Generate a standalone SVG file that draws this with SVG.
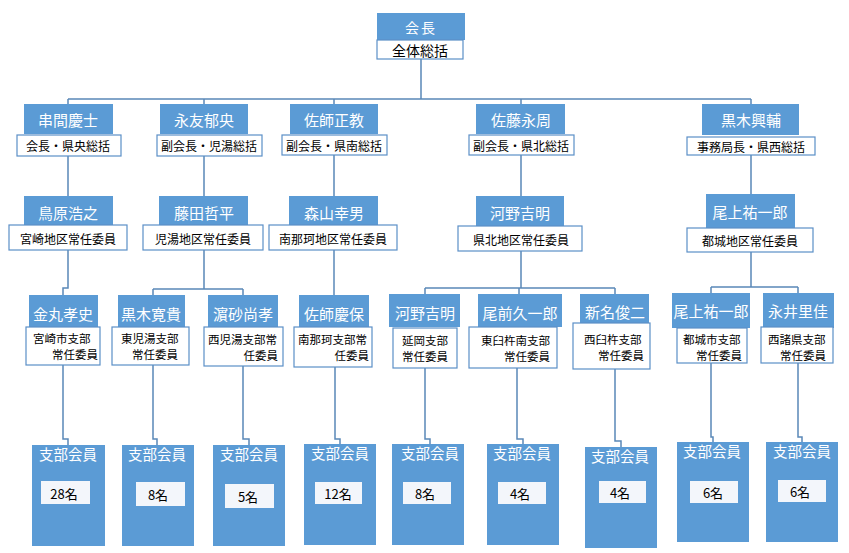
<svg xmlns="http://www.w3.org/2000/svg" width="849" height="553" viewBox="0 0 849 553">
<style>
text{font-family:"Noto Sans CJK JP","Noto Sans CJK SC",sans-serif;dominant-baseline:central}
.bl{fill:#5b9bd5}
.wb{fill:#ffffff;stroke:#5b8fc7;stroke-width:1.2}
.ib{fill:#f3f6fb}
.nm{fill:#ffffff;font-size:15px;text-anchor:middle}
.sb{fill:#000000;font-size:12px;text-anchor:middle}
.l1{fill:#000000;font-size:11.5px;text-anchor:start}
.l2{fill:#000000;font-size:11.5px;text-anchor:end}
.lc{fill:#000000;font-size:11.5px;text-anchor:middle}
.mh{fill:#ffffff;font-size:14.5px;text-anchor:middle}
.ct{fill:#000000;font-size:13px;text-anchor:middle}
.cn{fill:none;stroke:#5a88b8;stroke-width:1.5}
</style>
<rect width="849" height="553" fill="#ffffff"/>
<g id="connectors" class="cn">
<path d="M421,59V99M68,99H751M68,99V104M204,99V104M334,99V104M521,99V104M751,99V104"/>
<path d="M68,156V196M204,156V196M334,155V196M521,155V196M751,155V194"/>
<path d="M68,250V288H63V295"/>
<path d="M204,250V289M153,289H243M153,289V295M243,289V295"/>
<path d="M334,250V295"/>
<path d="M521,251V288M425,288H615M425,288V294M519,288V294M615,288V294"/>
<path d="M751,252V287M711,287H798M711,287V293M798,287V293"/>
<path d="M63,365V439H68V445"/>
<path d="M153,365V439H157V445"/>
<path d="M243,366V439H249V445"/>
<path d="M335,367V439H340V444"/>
<path d="M425,368V439H430V444"/>
<path d="M517,368V439H523V444"/>
<path d="M615,369V441H621V447"/>
<path d="M711,363V437H713V442"/>
<path d="M798,363V437H802V442"/>
</g>
<g id="n-kaicho">
<rect class="bl" x="377" y="13" width="88" height="27"/>
<rect class="wb" x="377" y="40" width="86" height="19"/>
<text class="nm" x="421" y="27" style="font-size:14px;letter-spacing:2px">会長</text>
<text class="sb" x="420" y="50" style="font-size:14px">全体総括</text>
</g>
<g id="n-kushima">
<rect class="bl" x="24" y="104" width="89" height="30"/>
<rect class="wb" x="17" y="135" width="104" height="21"/>
<text class="nm" x="68" y="119">串間慶士</text>
<text class="sb" x="68" y="145">会長・県央総括</text>
</g>
<g id="n-nagatomo">
<rect class="bl" x="160" y="104" width="88" height="30"/>
<rect class="wb" x="157" y="135" width="105" height="21"/>
<text class="nm" x="204" y="119">永友郁央</text>
<text class="sb" x="209" y="145">副会長・児湯総括</text>
</g>
<g id="n-sashi-m">
<rect class="bl" x="290" y="104" width="88" height="30"/>
<rect class="wb" x="282" y="135" width="105" height="20"/>
<text class="nm" x="334" y="119">佐師正教</text>
<text class="sb" x="334" y="145">副会長・県南総括</text>
</g>
<g id="n-sato">
<rect class="bl" x="476" y="104" width="89" height="30"/>
<rect class="wb" x="469" y="135" width="105" height="20"/>
<text class="nm" x="521" y="119">佐藤永周</text>
<text class="sb" x="521" y="145">副会長・県北総括</text>
</g>
<g id="n-kuroki-o">
<rect class="bl" x="702" y="104" width="97" height="31"/>
<rect class="wb" x="687" y="137" width="128" height="18"/>
<text class="nm" x="751" y="119">黒木興輔</text>
<text class="sb" x="751" y="146">事務局長・県西総括</text>
</g>
<g id="n-torihara">
<rect class="bl" x="24" y="196" width="89" height="29"/>
<rect class="wb" x="9" y="225" width="118" height="25"/>
<text class="nm" x="68" y="212">鳥原浩之</text>
<text class="sb" x="68" y="238">宮崎地区常任委員</text>
</g>
<g id="n-fujita">
<rect class="bl" x="159" y="196" width="89" height="29"/>
<rect class="wb" x="143" y="225" width="120" height="25"/>
<text class="nm" x="204" y="212">藤田哲平</text>
<text class="sb" x="203" y="238">児湯地区常任委員</text>
</g>
<g id="n-moriyama">
<rect class="bl" x="289" y="196" width="89" height="29"/>
<rect class="wb" x="269" y="225" width="128" height="25"/>
<text class="nm" x="334" y="212">森山幸男</text>
<text class="sb" x="333" y="238">南那珂地区常任委員</text>
</g>
<g id="n-kawano-1">
<rect class="bl" x="476" y="196" width="88" height="30"/>
<rect class="wb" x="458" y="226" width="124" height="25"/>
<text class="nm" x="520" y="212">河野吉明</text>
<text class="sb" x="521" y="239">県北地区常任委員</text>
</g>
<g id="n-onoue-1">
<rect class="bl" x="706" y="194" width="89" height="34"/>
<rect class="wb" x="687" y="228" width="126" height="24"/>
<text class="nm" x="750" y="211">尾上祐一郎</text>
<text class="sb" x="750" y="240">都城地区常任委員</text>
</g>
<g id="n-kanamaru">
<rect class="bl" x="29" y="295" width="69" height="32"/>
<rect class="wb" x="26" y="327" width="74" height="38"/>
<text class="nm" x="63" y="313">金丸孝史</text>
<text class="l1" x="33" y="338">宮崎市支部</text>
<text class="l2" x="98" y="354">常任委員</text>
</g>
<g id="n-kuroki-h">
<rect class="bl" x="118" y="295" width="67" height="32"/>
<rect class="wb" x="112" y="327" width="77" height="38"/>
<text class="nm" x="151" y="313">黒木寛貴</text>
<text class="l1" x="121" y="338">東児湯支部</text>
<text class="l2" x="178" y="354">常任委員</text>
</g>
<g id="n-hamasuna">
<rect class="bl" x="208" y="295" width="70" height="32"/>
<rect class="wb" x="204" y="327" width="79" height="39"/>
<text class="nm" x="243" y="313">濵砂尚孝</text>
<text class="l1" x="208" y="339">西児湯支部常</text>
<text class="l2" x="278" y="355">任委員</text>
</g>
<g id="n-sashi-y">
<rect class="bl" x="299" y="295" width="70" height="32"/>
<rect class="wb" x="294" y="327" width="78" height="40"/>
<text class="nm" x="334" y="313">佐師慶保</text>
<text class="l1" x="298" y="339">南那珂支部常</text>
<text class="l2" x="369" y="355">任委員</text>
</g>
<g id="n-kawano-2">
<rect class="bl" x="389" y="294" width="71" height="33"/>
<rect class="wb" x="393" y="328" width="64" height="40"/>
<text class="nm" x="425" y="312">河野吉明</text>
<text class="lc" x="425" y="340">延岡支部</text>
<text class="lc" x="425" y="356">常任委員</text>
</g>
<g id="n-omae">
<rect class="bl" x="478" y="294" width="84" height="33"/>
<rect class="wb" x="469" y="327" width="88" height="41"/>
<text class="nm" x="520" y="312">尾前久一郎</text>
<text class="l1" x="481" y="340">東臼杵南支部</text>
<text class="l2" x="550" y="356">常任委員</text>
</g>
<g id="n-niina">
<rect class="bl" x="580" y="294" width="69" height="30"/>
<rect class="wb" x="573" y="323" width="77" height="46"/>
<text class="nm" x="615" y="311">新名俊二</text>
<text class="l1" x="584" y="339">西臼杵支部</text>
<text class="l2" x="644" y="355">常任委員</text>
</g>
<g id="n-onoue-2">
<rect class="bl" x="672" y="293" width="78" height="35"/>
<rect class="wb" x="677" y="328" width="70" height="35"/>
<text class="nm" x="711" y="310">尾上祐一郎</text>
<text class="l1" x="683" y="339">都城市支部</text>
<text class="l2" x="742" y="355">常任委員</text>
</g>
<g id="n-nagai">
<rect class="bl" x="763" y="293" width="71" height="35"/>
<rect class="wb" x="761" y="327" width="72" height="36"/>
<text class="nm" x="798" y="310">永井里佳</text>
<text class="l1" x="768" y="339">西諸県支部</text>
<text class="l2" x="826" y="355">常任委員</text>
</g>
<g id="m1"><rect class="bl" x="32" y="445" width="73" height="101"/><text class="mh" x="68" y="453">支部会員</text><rect class="ib" x="41" y="481" width="49" height="23"/><text class="ct" x="64" y="493">28名</text></g>
<g id="m2"><rect class="bl" x="122" y="445" width="72" height="101"/><text class="mh" x="157" y="453">支部会員</text><rect class="ib" x="136" y="482" width="49" height="24"/><text class="ct" x="158" y="494">8名</text></g>
<g id="m3"><rect class="bl" x="213" y="445" width="72" height="101"/><text class="mh" x="249" y="453">支部会員</text><rect class="ib" x="225" y="484" width="49" height="24"/><text class="ct" x="248" y="496">5名</text></g>
<g id="m4"><rect class="bl" x="304" y="444" width="72" height="101"/><text class="mh" x="340" y="452">支部会員</text><rect class="ib" x="315" y="482" width="47" height="22"/><text class="ct" x="338" y="493">12名</text></g>
<g id="m5"><rect class="bl" x="392" y="444" width="72" height="101"/><text class="mh" x="430" y="452">支部会員</text><rect class="ib" x="403" y="482" width="48" height="22"/><text class="ct" x="425" y="493">8名</text></g>
<g id="m6"><rect class="bl" x="487" y="444" width="72" height="101"/><text class="mh" x="522" y="452">支部会員</text><rect class="ib" x="498" y="482" width="48" height="22"/><text class="ct" x="520" y="493">4名</text></g>
<g id="m7"><rect class="bl" x="585" y="447" width="72" height="101"/><text class="mh" x="620" y="455">支部会員</text><rect class="ib" x="599" y="481" width="47" height="22"/><text class="ct" x="620" y="492">4名</text></g>
<g id="m8"><rect class="bl" x="677" y="442" width="72" height="100"/><text class="mh" x="712" y="450">支部会員</text><rect class="ib" x="690" y="481" width="48" height="22"/><text class="ct" x="713" y="492">6名</text></g>
<g id="m9"><rect class="bl" x="766" y="442" width="72" height="100"/><text class="mh" x="802" y="450">支部会員</text><rect class="ib" x="778" y="480" width="48" height="22"/><text class="ct" x="800" y="491">6名</text></g>
</svg>
